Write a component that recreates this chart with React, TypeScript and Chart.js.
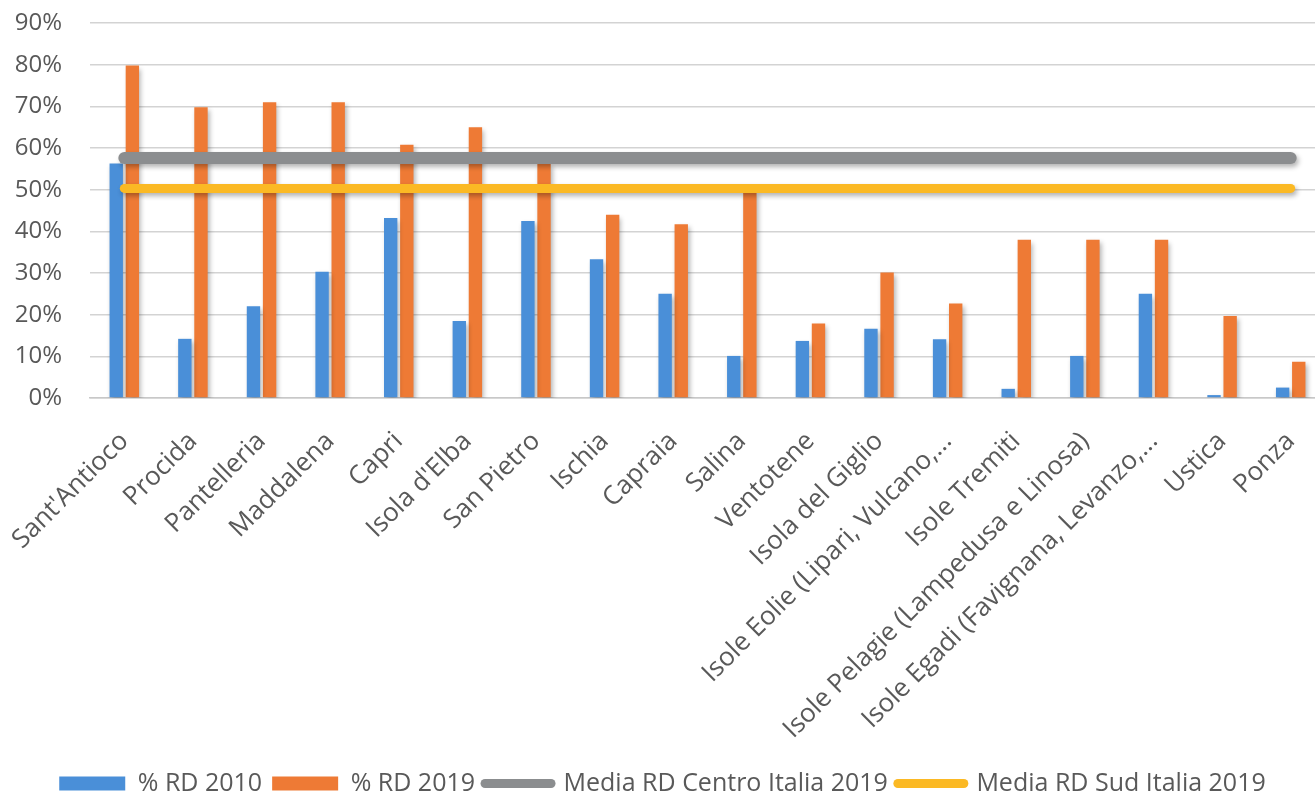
import React, { useEffect, useRef } from 'react';
import { Chart, registerables } from 'chart.js';

Chart.register(...registerables);

const categories = [
  "Sant'Antioco",
  'Procida',
  'Pantelleria',
  'Maddalena',
  'Capri',
  "Isola d'Elba",
  'San Pietro',
  'Ischia',
  'Capraia',
  'Salina',
  'Ventotene',
  'Isola del Giglio',
  'Isole Eolie (Lipari, Vulcano,...',
  'Isole Tremiti',
  'Isole Pelagie (Lampedusa e Linosa)',
  'Isole Egadi (Favignana, Levanzo,...',
  'Ustica',
  'Ponza',
];

const rd2010 = [56.3, 14.2, 22, 30.3, 43.2, 18.5, 42.5, 33.3, 25, 10.1, 13.7, 16.6, 14.1, 2.2, 10.1, 25, 0.7, 2.5];
const rd2019 = [79.8, 69.8, 71, 71, 60.8, 65, 56.2, 44, 41.7, 49.5, 17.9, 30.1, 22.7, 38, 38, 38, 19.7, 8.7];
const mediaCentro2019 = [57.6, 57.6, 57.6, 57.6, 57.6, 57.6, 57.6, 57.6, 57.6, 57.6, 57.6, 57.6, 57.6, 57.6, 57.6, 57.6, 57.6, 57.6];
const mediaSud2019 = [50.3, 50.3, 50.3, 50.3, 50.3, 50.3, 50.3, 50.3, 50.3, 50.3, 50.3, 50.3, 50.3, 50.3, 50.3, 50.3, 50.3, 50.3];

const seriesLabels = ['% RD 2010', '% RD 2019', 'Media RD Centro Italia 2019', 'Media RD Sud Italia 2019'];
const yMin = 0;
const yMax = 90;
const yStep = 10;

const BLUE = '#4a8fd8';
const ORANGE = '#ee7a35';
const GRAY = '#8b8d8f';
const YELLOW = '#fbb924';
const TEXT = '#595959';

const shadowPlugin = {
  id: 'shadowPlugin',
  beforeDatasetDraw(chart: any) {
    const ctx = chart.ctx;
    ctx.save();
    ctx.shadowColor = 'rgba(0,0,0,0.3)';
    ctx.shadowBlur = 5;
    ctx.shadowOffsetX = 2;
    ctx.shadowOffsetY = 3;
  },
  afterDatasetDraw(chart: any) {
    chart.ctx.restore();
  },
};

export default function App() {
  const canvasRef = useRef<HTMLCanvasElement | null>(null);

  useEffect(() => {
    document.body.style.margin = '0';
    document.body.style.overflow = 'hidden';
    const canvas = canvasRef.current;
    if (!canvas) return;
    Chart.defaults.font.family = "'Open Sans', sans-serif";
    const chart = new Chart(canvas, {
      type: 'bar',
      data: {
        labels: categories,
        datasets: [
          {
            type: 'line',
            label: seriesLabels[2],
            data: mediaCentro2019,
            borderColor: GRAY,
            backgroundColor: GRAY,
            borderWidth: 12,
            borderCapStyle: 'round',
            pointRadius: 0,
            order: 0,
          } as any,
          {
            type: 'line',
            label: seriesLabels[3],
            data: mediaSud2019,
            borderColor: YELLOW,
            backgroundColor: YELLOW,
            borderWidth: 9,
            borderCapStyle: 'round',
            pointRadius: 0,
            order: 0,
          } as any,
          {
            type: 'bar',
            label: seriesLabels[0],
            data: rd2010,
            backgroundColor: BLUE,
            categoryPercentage: 0.47,
            barPercentage: 0.83,
            order: 1,
          } as any,
          {
            type: 'bar',
            label: seriesLabels[1],
            data: rd2019,
            backgroundColor: ORANGE,
            categoryPercentage: 0.47,
            barPercentage: 0.83,
            order: 1,
          } as any,
        ],
      },
      options: {
        animation: false,
        responsive: true,
        maintainAspectRatio: false,
        layout: { padding: { left: 0, right: 5, top: 23, bottom: -10 } },
        scales: {
          x: {
            grid: { display: false, drawTicks: false },
            border: { display: true, color: '#c8c8c8', width: 1.5 },
            ticks: {
              autoSkip: false,
              maxRotation: 45,
              minRotation: 45,
              padding: 28,
              color: TEXT,
              font: { size: 26 },
            },
            afterFit: (scale: any) => {
              scale.paddingLeft = 0;
              scale.paddingRight = 0;
              scale.height = 363;
            },
          },
          y: {
            min: yMin,
            max: yMax,
            grid: { color: '#d3d3d3', lineWidth: 1.5, drawTicks: false },
            border: { display: false },
            ticks: {
              stepSize: yStep,
              padding: 28,
              color: TEXT,
              font: { size: 24 },
              callback: (v: any) => v + '%',
            },
            afterFit: (scale: any) => {
              scale.width = 90;
              scale.paddingTop = 0;
              scale.paddingBottom = 0;
            },
          },
        },
        plugins: {
          tooltip: { enabled: false },
          legend: {
            position: 'bottom',
            labels: {
              usePointStyle: true,
              pointStyleWidth: 66,
              boxHeight: 14,
              padding: 10,
              color: TEXT,
              font: { size: 25 },
              generateLabels: () => [
                { text: seriesLabels[0], fillStyle: BLUE, strokeStyle: BLUE, lineWidth: 0, pointStyle: 'rect', datasetIndex: 2, hidden: false, fontColor: TEXT },
                { text: seriesLabels[1], fillStyle: ORANGE, strokeStyle: ORANGE, lineWidth: 0, pointStyle: 'rect', datasetIndex: 3, hidden: false, fontColor: TEXT },
                { text: seriesLabels[2], fillStyle: GRAY, strokeStyle: GRAY, lineWidth: 9, lineCap: 'round', pointStyle: 'line', datasetIndex: 0, hidden: false, fontColor: TEXT },
                { text: seriesLabels[3], fillStyle: YELLOW, strokeStyle: YELLOW, lineWidth: 9, lineCap: 'round', pointStyle: 'line', datasetIndex: 1, hidden: false, fontColor: TEXT },
              ] as any,
            },
          },
        },
      } as any,
      plugins: [shadowPlugin],
    });
    return () => chart.destroy();
  }, []);

  return (
    <div style={{ width: 1315, height: 796, overflow: 'hidden', position: 'relative', background: '#fff' }}>
      <div style={{ width: 1330, height: 796, position: 'absolute', left: 0, top: 0 }}>
        <canvas ref={canvasRef} />
      </div>
    </div>
  );
}
